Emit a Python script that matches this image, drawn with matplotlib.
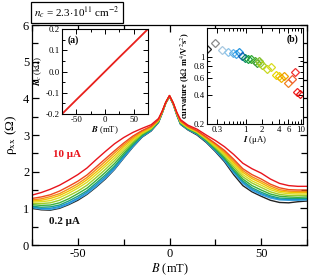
import numpy as np
import matplotlib
matplotlib.use("Agg")
import matplotlib.pyplot as plt
from matplotlib.ticker import MultipleLocator, FixedLocator, FixedFormatter, NullFormatter, FormatStrFormatter

plt.rcParams['font.family'] = ['Liberation Serif', 'DejaVu Serif']
plt.rcParams['mathtext.fontset'] = 'stix'
plt.rcParams['axes.unicode_minus'] = False

# magnetic field grid (mT) shared by all rho_xx traces
B = [-75, -70, -65, -60, -55, -50, -45, -40, -35, -30, -25, -20, -15, -10, -6, -4, -2, 0,
     2, 4, 6, 10, 15, 20, 25, 30, 35, 40, 45, 50, 55, 60, 65, 70, 75]

# rho_xx (Ohm), one trace per current
rho_0p2 = [1.00, 0.96, 0.95, 1.00, 1.10, 1.22, 1.38, 1.58, 1.80, 2.06, 2.37, 2.67, 2.94, 3.11, 3.34, 3.59, 3.87, 4.04,
           3.84, 3.54, 3.29, 3.14, 3.00, 2.80, 2.55, 2.27, 1.92, 1.62, 1.45, 1.33, 1.22, 1.16, 1.15, 1.18, 1.20]
rho_0p5 = [1.02, 0.98, 0.97, 1.02, 1.12, 1.25, 1.40, 1.60, 1.82, 2.07, 2.38, 2.68, 2.95, 3.12, 3.35, 3.60, 3.88, 4.05,
           3.85, 3.55, 3.30, 3.15, 3.02, 2.82, 2.57, 2.30, 1.97, 1.68, 1.49, 1.37, 1.28, 1.23, 1.22, 1.22, 1.23]
rho_0p8 = [1.04, 1.00, 1.00, 1.05, 1.15, 1.28, 1.44, 1.64, 1.86, 2.11, 2.41, 2.70, 2.96, 3.13, 3.36, 3.60, 3.88, 4.05,
           3.85, 3.55, 3.31, 3.16, 3.03, 2.83, 2.58, 2.32, 2.00, 1.71, 1.52, 1.40, 1.31, 1.25, 1.24, 1.24, 1.25]
rho_1p0 = [1.06, 1.03, 1.04, 1.09, 1.20, 1.33, 1.48, 1.69, 1.91, 2.15, 2.45, 2.73, 2.98, 3.14, 3.36, 3.61, 3.88, 4.05,
           3.85, 3.56, 3.31, 3.16, 3.04, 2.84, 2.60, 2.35, 2.03, 1.75, 1.56, 1.44, 1.34, 1.28, 1.27, 1.27, 1.27]
rho_1p5 = [1.10, 1.08, 1.09, 1.15, 1.26, 1.40, 1.55, 1.76, 1.98, 2.22, 2.50, 2.77, 3.00, 3.16, 3.37, 3.61, 3.88, 4.06,
           3.86, 3.57, 3.33, 3.18, 3.05, 2.86, 2.63, 2.38, 2.08, 1.80, 1.62, 1.50, 1.39, 1.33, 1.31, 1.30, 1.31]
rho_2p0 = [1.13, 1.13, 1.15, 1.22, 1.34, 1.47, 1.63, 1.84, 2.06, 2.30, 2.56, 2.81, 3.03, 3.17, 3.38, 3.62, 3.89, 4.06,
           3.86, 3.57, 3.34, 3.19, 3.07, 2.88, 2.66, 2.43, 2.14, 1.86, 1.69, 1.57, 1.45, 1.38, 1.35, 1.35, 1.35]
rho_3p0 = [1.17, 1.18, 1.21, 1.29, 1.41, 1.55, 1.71, 1.92, 2.14, 2.37, 2.62, 2.85, 3.05, 3.19, 3.39, 3.62, 3.89, 4.06,
           3.86, 3.58, 3.35, 3.20, 3.08, 2.90, 2.69, 2.47, 2.19, 1.92, 1.75, 1.63, 1.51, 1.43, 1.40, 1.39, 1.39]
rho_4p5 = [1.20, 1.22, 1.27, 1.35, 1.47, 1.61, 1.78, 1.99, 2.21, 2.44, 2.68, 2.89, 3.07, 3.21, 3.40, 3.63, 3.89, 4.07,
           3.87, 3.59, 3.37, 3.22, 3.10, 2.92, 2.72, 2.51, 2.24, 1.98, 1.81, 1.69, 1.56, 1.47, 1.44, 1.43, 1.43]
rho_6p0 = [1.23, 1.26, 1.32, 1.40, 1.53, 1.67, 1.84, 2.06, 2.28, 2.51, 2.73, 2.93, 3.10, 3.22, 3.41, 3.63, 3.89, 4.07,
           3.87, 3.59, 3.38, 3.23, 3.11, 2.93, 2.75, 2.54, 2.29, 2.03, 1.86, 1.74, 1.61, 1.51, 1.47, 1.46, 1.46]
rho_8p0 = [1.27, 1.31, 1.37, 1.47, 1.60, 1.74, 1.91, 2.13, 2.35, 2.57, 2.78, 2.97, 3.12, 3.24, 3.42, 3.64, 3.89, 4.07,
           3.87, 3.60, 3.39, 3.24, 3.12, 2.95, 2.77, 2.58, 2.34, 2.08, 1.92, 1.80, 1.66, 1.56, 1.51, 1.50, 1.50]
rho_10 = [1.36, 1.43, 1.52, 1.63, 1.77, 1.92, 2.10, 2.33, 2.55, 2.76, 2.93, 3.07, 3.18, 3.28, 3.45, 3.65, 3.90, 4.08,
          3.88, 3.62, 3.42, 3.27, 3.16, 3.00, 2.85, 2.68, 2.47, 2.23, 2.08, 1.96, 1.80, 1.68, 1.62, 1.60, 1.60]

traces = [rho_0p2, rho_0p5, rho_0p8, rho_1p0, rho_1p5, rho_2p0, rho_3p0, rho_4p5, rho_6p0, rho_8p0, rho_10]
trace_colors = ['#222222', '#3fa6e0', '#1f8fd8', '#1aa07a', '#3bb03a', '#9acd2a', '#dcdc1e',
                '#f2c200', '#f39018', '#f04a1c', '#e8141c']

# inset (a): R_c vs B
Ba = [-75, -50, -25, 0, 25, 50, 75]
Rc = [-0.2, -0.133, -0.067, 0.0, 0.067, 0.133, 0.2]

# inset (b): curvature vs current
I_uA = [0.2, 0.284, 0.377, 0.475, 0.58, 0.68, 0.76, 0.87, 0.97, 1.11, 1.28, 1.46, 1.61, 1.74,
        1.86, 1.97, 2.41, 2.87, 3.52, 4.03, 4.43, 4.93, 5.82, 6.83, 7.94, 8.7, 9.6]
curv = [1.196, 1.38, 1.17, 1.13, 1.09, 1.08, 1.13, 1.01, 0.976, 0.96, 0.945, 0.915, 0.87, 0.90,
        0.857, 0.816, 0.746, 0.777, 0.65, 0.64, 0.60, 0.64, 0.54, 0.585, 0.69, 0.43, 0.415]
curv_colors = ['#222222', '#8a8a8a', '#a8c8e0', '#8cc4ea', '#66b4ea', '#44a6e6', '#2094e2', '#1460b4',
               '#108a6a', '#12a040', '#2ea832', '#50b030', '#3c9c3c', '#80c030', '#94c830', '#aad020',
               '#c8d820', '#d8dc20', '#e8d800', '#f0cc00', '#f0b400', '#f0a000', '#f08020', '#f06030',
               '#f03030', '#f02020', '#e81010']

W, H = 309, 277
fig = plt.figure(figsize=(W / 100, H / 100), dpi=100)


def px_axes(x0, y0, x1, y1):
    return fig.add_axes([x0 / W, 1 - y1 / H, (x1 - x0) / W, (y1 - y0) / H])


# main panel
ax = px_axes(32, 25, 307, 245)
for y, c in zip(traces, trace_colors):
    ax.plot(B, y, color=c, lw=1.0)
ax.set_xlim(-75, 75)
ax.set_ylim(0, 6)
ax.xaxis.set_major_locator(MultipleLocator(50))
ax.xaxis.set_minor_locator(MultipleLocator(25))
ax.yaxis.set_major_locator(MultipleLocator(1))
ax.yaxis.set_minor_locator(MultipleLocator(0.5))
ax.tick_params(which='both', direction='in', top=True, right=True, labelsize=9, pad=2)
ax.tick_params(which='major', length=5, width=0.9)
ax.tick_params(which='minor', length=4, width=0.9)
for s in ax.spines.values():
    s.set_linewidth(0.9)
ax.set_xlabel(r'$B$ (mT)', fontsize=9, labelpad=1)
ax.set_ylabel('ρ$_{\\mathrm{xx}}$ (Ω)', fontsize=9.5, labelpad=3)
ax.text(-56, 2.48, '10 μA', color='#e8141c', fontsize=8, fontweight='bold', ha='center', va='center')
ax.text(-57.5, 0.65, '0.2 μA', color='#111111', fontsize=8, fontweight='bold', ha='center', va='center')

fig.text(77 / W, 1 - 12.5 / H, r'$n_c$ = 2.3$\cdot$10$^{11}$ cm$^{-2}$', fontsize=8, ha='center', va='center',
         bbox=dict(boxstyle='square,pad=0.25', fc='white', ec='black', lw=0.9))

# inset (a)
axa = px_axes(62, 29, 148, 114)
axa.plot(Ba, Rc, color='#e8201c', lw=1.3)
axa.set_xlim(-75, 75)
axa.set_ylim(-0.2, 0.2)
axa.xaxis.set_major_locator(MultipleLocator(50))
axa.xaxis.set_minor_locator(MultipleLocator(25))
axa.yaxis.set_major_locator(MultipleLocator(0.1))
axa.yaxis.set_minor_locator(MultipleLocator(0.05))
axa.yaxis.set_major_formatter(FormatStrFormatter('%.1f'))
axa.tick_params(which='both', direction='in', top=True, right=True, labelsize=6.3, pad=1.5)
axa.tick_params(which='major', length=3.5, width=0.7)
axa.tick_params(which='minor', length=2, width=0.7)
for s in axa.spines.values():
    s.set_linewidth(0.8)
axa.set_xlabel(r'$\boldsymbol{B}$ (mT)', fontsize=6.3, labelpad=0)
axa.set_ylabel(r'$\boldsymbol{R}_c$ (k$\Omega$)', fontsize=6.3, labelpad=1)
axa.text(0.07, 0.93, '(a)', transform=axa.transAxes, fontsize=7, fontweight='bold', ha='left', va='top')

# inset (b)
axb = px_axes(207, 28, 303, 124)
for x, y, c in zip(I_uA, curv, curv_colors):
    axb.plot(x, y, marker='D', ms=3.6, mfc='none', mec=c, mew=0.9, ls='none')
axb.set_xscale('log')
axb.set_yscale('log')
axb.set_xlim(0.2, 11)
axb.set_ylim(0.2, 2.0)
axb.xaxis.set_major_locator(FixedLocator([0.3, 1, 2, 4, 6, 10]))
axb.xaxis.set_major_formatter(FixedFormatter(['0.3', '1', '2', '4', '6', '10']))
axb.xaxis.set_minor_formatter(NullFormatter())
axb.yaxis.set_major_locator(FixedLocator([0.2, 0.4, 0.6, 0.8, 1]))
axb.yaxis.set_major_formatter(FixedFormatter(['0.2', '0.4', '0.6', '0.8', '1']))
axb.yaxis.set_minor_formatter(NullFormatter())
axb.tick_params(which='both', direction='in', top=True, right=True, labelsize=6.3, pad=1.5)
axb.tick_params(which='major', length=3.5, width=0.7)
axb.tick_params(which='minor', length=2, width=0.7)
for s in axb.spines.values():
    s.set_linewidth(0.8)
axb.set_xlabel(r'$\boldsymbol{I}$ (μA)', fontsize=6.3, labelpad=0)
axb.set_ylabel(r'curvature (k$\Omega$ m$^4$/V$^2$s$^2$)', fontsize=6, fontweight='bold', labelpad=1)
axb.text(0.95, 0.93, '(b)', transform=axb.transAxes, fontsize=7, fontweight='bold', ha='right', va='top')

fig.savefig('out.png', dpi=100)
